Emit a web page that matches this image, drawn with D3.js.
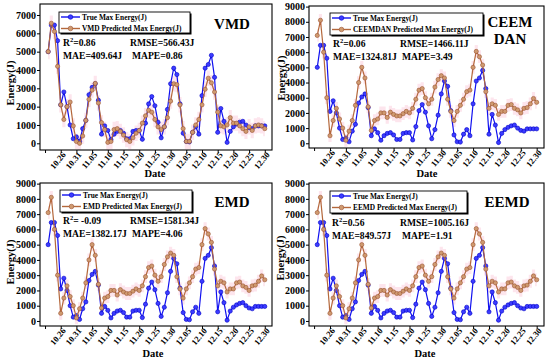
<!DOCTYPE html>
<html>
<head>
<meta charset="utf-8">
<script src="https://cdn.jsdelivr.net/npm/d3@7"></script>
<style>
  body { margin: 0; background: #fff; }
  text { font-family: "Liberation Serif", "Times New Roman", serif; font-weight: bold; }
</style>
</head>
<body>
<svg id="mainsvg" width="550" height="362"></svg>
<script>
// dates of the samples (10.22 - 12.30)
const dates = [
  '10.22','10.23','10.24','10.25','10.26','10.27','10.28','10.29','10.30','10.31',
  '11.01','11.02','11.03','11.04','11.05','11.06','11.07','11.08','11.09','11.10',
  '11.11','11.12','11.13','11.14','11.15','11.16','11.17','11.18','11.19','11.20',
  '11.21','11.22','11.23','11.24','11.25','11.26','11.27','11.28','11.29','11.30',
  '12.01','12.02','12.03','12.04','12.05','12.06','12.07','12.08','12.09','12.10',
  '12.11','12.12','12.13','12.14','12.15','12.16','12.17','12.18','12.19','12.20',
  '12.21','12.22','12.23','12.24','12.25','12.26','12.27','12.28','12.29','12.30'
];

const trueEnergy = [
  5000, 6450, 6450, 5600, 2100, 2800, 2000, 1000, 250, 350,
  100, 800, 1250, 2650, 3050, 3250, 2350, 500, 950, 700,
  200, 500, 650, 700, 550, 250, 250, 650, 700, 700,
  220, 1100, 2150, 2550, 2050, 1150, 300, 900, 1850, 3250,
  4100, 3750, 2150, 550, 100, 80, 600, 900, 500, 2600,
  4100, 4300, 4800, 3600, 600, 1900, 1200, 50, 650, 900,
  1050, 1150, 1200, 1000, 850, 800, 950, 950, 950, 950
];

const vmdPred = [
  5000, 6550, 6100, 4200, 2100, 1300, 2000, 2250, 950, 100,
  0, 400, 1250, 2400, 2900, 3270, 2200, 1130, 750, 50,
  100, 750, 800, 650, 450, 200, 100, 300, 550, 700,
  1100, 1500, 1800, 1700, 1300, 900, 750, 900, 1400, 2300,
  3250, 3200, 2100, 800, 100, 100, 600, 1000, 1300, 2100,
  2950, 3550, 3300, 2800, 1700, 950, 900, 1000, 1400, 1100,
  1100, 950, 800, 650, 900, 700, 950, 1000, 950, 800
];

const ceemdanPred = [
  7100, 8100, 6000, 3000, 500, 1500, 2300, 1600, 1000, 200,
  800, 1500, 2500, 4000, 5000, 4300, 2400, 850, 1500, 1600,
  2000, 2000, 1700, 2050, 1900, 1800, 1800, 1950, 2100, 2000,
  2300, 2900, 3500, 3600, 3000, 2600, 2900, 3700, 4200, 4450,
  4300, 2900, 2100, 1500, 2100, 2500, 2900, 3400, 3500, 5000,
  6050, 5700, 5150, 3400, 2300, 2600, 2500, 1900, 2100, 2100,
  2500, 2550, 2300, 2200, 2000, 2300, 2350, 2600, 2950, 2700
];

const emdPred = [
  7100, 8100, 6000, 3000, 500, 1500, 2300, 1600, 1000, 200,
  800, 1500, 2500, 4000, 5000, 4300, 2400, 850, 1500, 1600,
  2000, 2000, 1700, 2050, 1900, 1800, 1800, 1950, 2100, 2000,
  2300, 2900, 3500, 3600, 3000, 2600, 2900, 3700, 4200, 4450,
  4300, 2900, 2100, 1500, 2100, 2500, 2900, 3400, 3500, 5000,
  6050, 5700, 5150, 3400, 2300, 2600, 2500, 1900, 2100, 2100,
  2500, 2550, 2300, 2200, 2000, 2300, 2350, 2600, 2950, 2700
];

const eemdPred = [
  7100, 8100, 6000, 3000, 500, 1500, 2300, 1600, 1000, 200,
  800, 1500, 2500, 4000, 5000, 4300, 2400, 850, 1500, 1600,
  2000, 2000, 1700, 2050, 1900, 1800, 1800, 1950, 2100, 2000,
  2300, 2900, 3500, 3600, 3000, 2600, 2900, 3700, 4200, 4450,
  4300, 2900, 2100, 1500, 2100, 2500, 2900, 3400, 3500, 5000,
  6050, 5700, 5150, 3400, 2300, 2600, 2500, 1900, 2100, 2100,
  2500, 2550, 2300, 2200, 2000, 2300, 2350, 2600, 2950, 2700
];

// x ticks every 5 days, first one unlabeled
const tickDates = ['10.21','10.26','10.31','11.05','11.10','11.15','11.20','11.25',
                   '11.30','12.05','12.10','12.15','12.20','12.25','12.30'];
const tickLabels = ['','10.26','10.31','11.05','11.10','11.15','11.20','11.25',
                    '11.30','12.05','12.10','12.15','12.20','12.25','12.30'];

const methods = ['VMD', 'CEEMDAN', 'EMD', 'EEMD'];
const r2Text = ['0.86', '0.06', ' -0.09', '0.56'];
const rmseText = ['566.43J', '1466.11J', '1581.34J', '1005.16J'];
const maeText = ['409.64J', '1324.81J', '1382.17J', '849.57J'];
const mapeText = ['0.86', '3.49', '4.06', '1.91'];

// day number counted from 10.21
function dayNum(s) {
  const [m, d] = s.split('.').map(Number);
  if (m === 10) return d - 21;
  if (m === 11) return 10 + d;
  return 40 + d;
}

const svg = d3.select('#mainsvg');
const blue = '#1010f0', brown = '#b4683c';

const panels = [
  { pred: vmdPred, title: ['VMD'], tx: 232, ty: [29],
    l: 40, r: 272, t: 4, b: 150, yDom: [-365, 7600], yMax: 7000,
    legend: [59, 12, 131, 21], sx: [63, 130], sy: [46, 59],
    yt: [10, 83], xt: [155, 177] },
  { pred: ceemdanPred, title: ['CEEM', 'DAN'], tx: 510, ty: [27, 44],
    l: 309, r: 544, t: 6, b: 148, yDom: [-310, 9040], yMax: 9000,
    legend: [330, 13, 153, 22], sx: [333, 400], sy: [47, 60],
    yt: [281, 78], xt: [427, 177] },
  { pred: emdPred, title: ['EMD'], tx: 232, ty: [207],
    l: 40, r: 272, t: 183, b: 326, yDom: [-330, 9040], yMax: 9000,
    legend: [60, 190, 132, 22], sx: [63, 130], sy: [224, 237],
    yt: [10, 262], xt: [153, 357] },
  { pred: eemdPred, title: ['EEMD'], tx: 507, ty: [207],
    l: 309, r: 544, t: 183, b: 326, yDom: [-330, 9040], yMax: 9000,
    legend: [330, 191, 137, 22], sx: [332, 400], sy: [226, 239],
    yt: [280, 258], xt: [425, 357] }
];

panels.forEach((p, pi) => {
  const g = svg.append('g');
  const x = d3.scaleLinear().domain([-1.6, 72.3]).range([p.l, p.r]);
  const y = d3.scaleLinear().domain(p.yDom).range([p.b, p.t]);

  const rows = dates.map((dt, i) => ({ d: dayNum(dt), t: trueEnergy[i], p: p.pred[i] }));

  // faint pink band around the prediction
  g.append('path')
    .datum(rows)
    .attr('fill', '#fde5ed')
    .attr('d', d3.area()
      .x(r => x(r.d))
      .y0(r => y(Math.max(p.yDom[0], r.p - 420)))
      .y1(r => y(r.p + 420))
      .curve(d3.curveStep));

  // axes
  const yAxis = d3.axisLeft(y)
    .tickValues(d3.range(0, p.yMax + 1, 1000))
    .tickSize(3)
    .tickFormat(d3.format('d'));
  const yg = g.append('g').attr('transform', `translate(${p.l},0)`).call(yAxis);
  yg.select('.domain').remove();
  yg.selectAll('text').attr('font-size', '10px').attr('font-family', null).attr('x', -4);

  const xAxis = d3.axisBottom(x)
    .tickValues(tickDates.map(dayNum))
    .tickSize(3)
    .tickFormat((d, i) => tickLabels[i]);
  const xg = g.append('g').attr('transform', `translate(0,${p.b})`).call(xAxis);
  xg.select('.domain').remove();
  xg.selectAll('text')
    .attr('font-size', '8.5px')
    .attr('font-family', null)
    .attr('text-anchor', 'end')
    .attr('y', 0).attr('dy', 0)
    .attr('transform', 'translate(5,5) rotate(-50)');

  // frame
  g.append('rect')
    .attr('x', p.l).attr('y', p.t)
    .attr('width', p.r - p.l).attr('height', p.b - p.t)
    .attr('fill', 'none').attr('stroke', '#000').attr('stroke-width', 1.1);

  // series
  const series = [
    { key: 't', color: blue, fill: '#3c3cff', stroke: '#0000c8' },
    { key: 'p', color: brown, fill: '#cf9a70', stroke: '#9a5230' }
  ];
  series.forEach(s => {
    g.append('path')
      .datum(rows)
      .attr('fill', 'none')
      .attr('stroke', s.color)
      .attr('stroke-width', 1.2)
      .attr('d', d3.line().x(r => x(r.d)).y(r => y(r[s.key])));
    g.selectAll(null)
      .data(rows)
      .join('circle')
      .attr('cx', r => x(r.d))
      .attr('cy', r => y(r[s.key]))
      .attr('r', 2.1)
      .attr('fill', s.fill)
      .attr('stroke', s.stroke)
      .attr('stroke-width', 0.6);
  });

  // legend
  const [lx, ly, lw, lh] = p.legend;
  g.append('rect').attr('x', lx + 1.5).attr('y', ly + 1.5).attr('width', lw).attr('height', lh).attr('fill', '#000');
  g.append('rect').attr('x', lx).attr('y', ly).attr('width', lw).attr('height', lh)
    .attr('fill', '#fff').attr('stroke', '#000').attr('stroke-width', 0.9);
  const legendItems = [
    { label: 'True Max Energy(J)', s: series[0] },
    { label: methods[pi] + ' Predicted Max Energy(J)', s: series[1] }
  ];
  legendItems.forEach((it, k) => {
    const yy = ly + 5 + k * 11.5;
    g.append('line').attr('x1', lx + 2).attr('x2', lx + 21).attr('y1', yy).attr('y2', yy)
      .attr('stroke', it.s.color).attr('stroke-width', 1.4);
    g.append('circle').attr('cx', lx + 11.5).attr('cy', yy).attr('r', 2.3)
      .attr('fill', it.s.fill).attr('stroke', it.s.stroke).attr('stroke-width', 0.6);
    g.append('text').attr('x', lx + 23).attr('y', yy + 2.8).attr('font-size', '7.4px').text(it.label);
  });

  // statistics
  const fs = '9.6px';
  const r2 = g.append('text').attr('x', p.sx[0]).attr('y', p.sy[0]).attr('font-size', fs);
  r2.append('tspan').text('R');
  r2.append('tspan').attr('font-size', '6.5px').attr('dy', -4).text('2');
  r2.append('tspan').attr('dy', 4).text('=' + r2Text[pi]);
  g.append('text').attr('x', p.sx[1]).attr('y', p.sy[0]).attr('font-size', fs).text('RMSE=' + rmseText[pi]);
  g.append('text').attr('x', p.sx[0]).attr('y', p.sy[1]).attr('font-size', fs).text('MAE=' + maeText[pi]);
  g.append('text').attr('x', p.sx[1] + 2).attr('y', p.sy[1]).attr('font-size', fs).text('MAPE=' + mapeText[pi]);

  // method title
  p.title.forEach((tl, k) => {
    g.append('text').attr('x', p.tx).attr('y', p.ty[k]).attr('text-anchor', 'middle')
      .attr('font-size', '15px').text(tl);
  });

  // axis titles
  g.append('text')
    .attr('transform', `translate(${p.yt[0]},${p.yt[1]}) rotate(-90)`)
    .attr('text-anchor', 'middle').attr('dy', '0.35em')
    .attr('font-size', '10.5px').text('Energy(J)');
  g.append('text').attr('x', p.xt[0]).attr('y', p.xt[1]).attr('text-anchor', 'middle')
    .attr('font-size', '10.5px').text('Date');
});
</script>
</body>
</html>
